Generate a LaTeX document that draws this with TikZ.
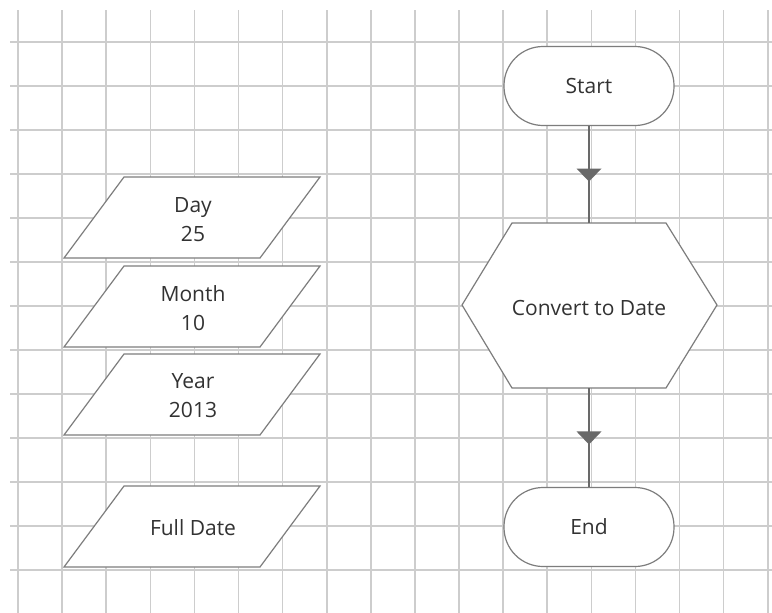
\documentclass[tikz,border=0pt]{standalone}
\usepackage{fontspec}
\setmainfont{Open Sans}
\usetikzlibrary{decorations.markings}
\definecolor{gridc}{RGB}{205,205,205}
\definecolor{shapec}{RGB}{125,125,125}
\definecolor{arrc}{RGB}{105,105,105}
\definecolor{txtc}{RGB}{50,50,50}
\tikzset{
  gridline/.style={draw=gridc, line width=1.6pt},
  outline/.style={draw=shapec, fill=white, line width=1.2pt},
  terminal/.style={outline, rectangle, rounded corners=39pt, minimum width=170pt, minimum height=79pt, font=\fontsize{21}{29}\selectfont, text=txtc},
  label/.style={font=\fontsize{21}{29}\selectfont, text=txtc, align=center},
  flow/.style={draw=arrc, line width=2.4pt,
    postaction={decorate},
    decoration={markings, mark=at position 0.5 with {\fill[arrc] (-6,-12.5) -- (-6,12.5) -- (7,0) -- cycle;}}}
}
\begin{document}
\begin{tikzpicture}[x=1pt,y=-1pt]
\useasboundingbox (0,0) rectangle (772,613);
\fill[white] (0,0) rectangle (772,613);
% grid
\foreach \k in {0,...,17} \draw[gridline] ({18+44.1*\k},10) -- ({18+44.1*\k},613);
\foreach \k in {0,...,12} \draw[gridline] (10,{42+44*\k}) -- (772,{42+44*\k});
% data parallelograms
\draw[outline] (124,177) -- (320,177) -- (260,258) -- (64,258) -- cycle;
\node[label] (day) at (193,220) {Day\\25};
\draw[outline] (124,266) -- (320,266) -- (260,347) -- (64,347) -- cycle;
\node[label] (month) at (193,308) {Month\\10};
\draw[outline] (124,354) -- (320,354) -- (260,435) -- (64,435) -- cycle;
\node[label] (year) at (193,396) {Year\\2013};
\draw[outline] (124,486) -- (320,486) -- (260,567) -- (64,567) -- cycle;
\node[label] (full) at (193,528) {Full Date};
% flow
\node[terminal] (start) at (589,86) {Start};
\draw[outline] (512,223) -- (666,223) -- (717,305) -- (666,388) -- (512,388) -- (462,305) -- cycle;
\node[label] (conv) at (589,308) {Convert to Date};
\coordinate (hextop) at (589,223);
\coordinate (hexbot) at (589,388);
\node[terminal] (end) at (589,527) {End};
\draw[flow] (start.south) -- (hextop);
\draw[flow] (hexbot) -- (end.north);
\end{tikzpicture}
\end{document}
